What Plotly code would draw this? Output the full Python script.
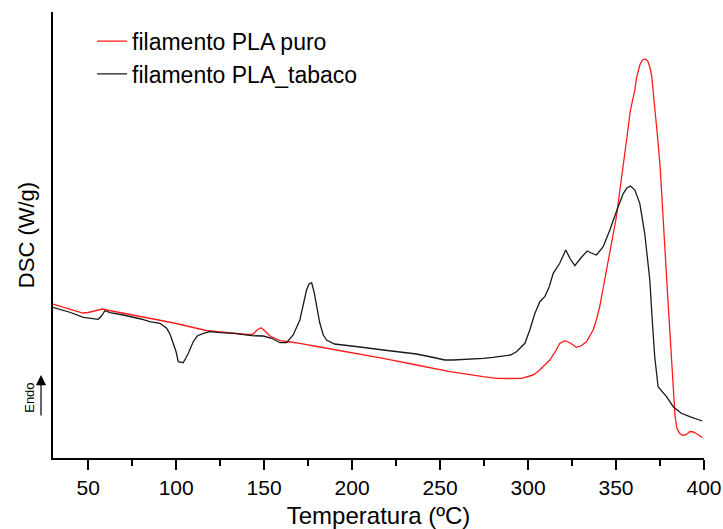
import plotly.graph_objects as go

# Temperature (ºC) and DSC signal (arbitrary units, endo up)
puro_T = [30, 40, 47, 50, 54, 58, 62, 70, 80, 90, 100, 110, 117, 125, 132, 140, 143.5, 146, 148.2,
          150.5, 153.3, 159, 165, 170.3, 180, 190, 199, 205, 217.7, 236.6, 255.6, 274.5, 282, 290,
          296.3, 301, 303, 306, 308.6, 312.4, 316, 318, 320.9, 324, 327.5, 330, 333.2, 335, 337,
          339, 340.8, 342.7, 344.6, 346.5, 348.4, 350.3, 352.2, 354, 356, 358.2, 360.7, 361.6,
          363.5, 365, 366.5, 368, 369.2, 370.2, 372, 373.5, 375, 376.5, 378, 379.5, 381, 382.5,
          383.5, 384.5, 386, 388, 390, 392, 394, 396, 399]
puro_v = [1.54, 1.49, 1.45, 1.455, 1.47, 1.49, 1.475, 1.45, 1.415, 1.38, 1.345, 1.305, 1.275,
          1.26, 1.247, 1.235, 1.235, 1.28, 1.303, 1.27, 1.22, 1.173, 1.16, 1.147, 1.115, 1.085,
          1.053, 1.035, 0.997, 0.93, 0.863, 0.813, 0.797, 0.795, 0.797, 0.82, 0.83, 0.87, 0.913,
          0.98, 1.08, 1.145, 1.173, 1.15, 1.107, 1.12, 1.163, 1.22, 1.28, 1.39, 1.52, 1.7, 1.88,
          2.04, 2.2, 2.42, 2.68, 2.9, 3.18, 3.48, 3.68, 3.8, 3.93, 3.98, 3.99, 3.97, 3.91, 3.83,
          3.53, 3.23, 2.93, 2.53, 2.03, 1.58, 1.13, 0.68, 0.43, 0.3, 0.25, 0.225, 0.235, 0.265,
          0.26, 0.24, 0.205]

tabaco_T = [30, 40, 47.2, 52, 55.7, 57.5, 59.5, 62.4, 70, 80, 85, 90.8, 94.6, 96.5, 98.4, 100,
            101.2, 104, 105.5, 106.9, 109.7, 112, 115.4, 119.2, 124.9, 133.4, 142.9, 149.5, 154.3,
            159, 162.8, 166.5, 170.3, 172.5, 174.1, 175.5, 177, 178.5, 179.8, 181.5, 183.6, 185.5,
            190, 199, 204.4, 217.7, 236.6, 245, 252.7, 257.4, 265, 274.5, 280, 285.8, 290, 293.4,
            296, 298.2, 301, 303.9, 306.7, 309.5, 312, 314.3, 318, 321.4, 324, 326.6, 330, 333.6,
            336, 338.9, 342.7, 346.5, 351.2, 354, 356, 358.2, 360.7, 363.5, 366.3, 369.2, 370.7,
            372, 373.9, 378.7, 382.5, 387.1, 391.9, 397.6, 399]
tabaco_v = [1.507, 1.455, 1.407, 1.395, 1.387, 1.42, 1.473, 1.453, 1.43, 1.39, 1.363, 1.347,
            1.297, 1.24, 1.147, 1.06, 0.963, 0.953, 1.0, 1.047, 1.163, 1.22, 1.247, 1.263, 1.253,
            1.247, 1.223, 1.22, 1.197, 1.153, 1.153, 1.23, 1.38, 1.55, 1.68, 1.74, 1.753, 1.65,
            1.513, 1.36, 1.23, 1.18, 1.14, 1.125, 1.11, 1.08, 1.04, 1.01, 0.98, 0.98, 0.985,
            0.997, 1.007, 1.02, 1.03, 1.063, 1.105, 1.147, 1.28, 1.447, 1.563, 1.613, 1.71, 1.847,
            1.947, 2.08, 1.99, 1.923, 2.0, 2.07, 2.05, 2.03, 2.113, 2.28, 2.513, 2.64, 2.697, 2.72,
            2.68, 2.547, 2.247, 1.78, 1.347, 1.013, 0.713, 0.613, 0.513, 0.447, 0.413, 0.38, 0.37]

x_ticks = [50, 100, 150, 200, 250, 300, 350, 400]
x_minor = [75, 125, 175, 225, 275, 325, 375]

FONT = "Liberation Sans, Arial, sans-serif"

fig = go.Figure()
fig.add_trace(go.Scatter(x=puro_T, y=puro_v, mode="lines", name="filamento PLA puro",
                         line=dict(color="#ff1a1a", width=1.3)))
fig.add_trace(go.Scatter(x=tabaco_T, y=tabaco_v, mode="lines", name="filamento PLA_tabaco",
                         line=dict(color="#1a1a1a", width=1.3)))

fig.update_layout(
    width=723, height=529,
    margin=dict(l=53, r=19, t=12, b=71, autoexpand=False),
    plot_bgcolor="white", paper_bgcolor="white",
    font=dict(family=FONT, color="black"),
    showlegend=True,
    legend=dict(x=0.06, y=0.983, xanchor="left", yanchor="top",
                bgcolor="rgba(0,0,0,0)", font=dict(size=23, family=FONT),
                tracegroupgap=0, itemwidth=30),
    xaxis=dict(range=[30, 400], showgrid=False, zeroline=False, automargin=False,
               showline=True, linecolor="black", linewidth=2,
               ticks="outside", ticklen=10, tickwidth=1.5, tickcolor="black",
               tickvals=x_ticks, ticktext=[str(t) for t in x_ticks],
               tickfont=dict(size=21, family=FONT),
               minor=dict(tickvals=x_minor, ticks="outside",
                          ticklen=6, tickwidth=1.5, tickcolor="black"),
               title=dict(text="Temperatura (ºC)", font=dict(size=24, family=FONT), standoff=9)),
    yaxis=dict(range=[0, 4.46], showgrid=False, zeroline=False, automargin=False,
               showline=True, linecolor="black", linewidth=2,
               showticklabels=False, ticks="",
               title=dict(text="DSC (W/g)", font=dict(size=22, family=FONT), standoff=10)),
)

# Endo arrow marker
fig.add_annotation(xref="paper", yref="paper", x=-0.0184, y=0.186, text="",
                   showarrow=True, ax=0, ay=42, arrowhead=2, arrowsize=1.7,
                   arrowwidth=1.2, arrowcolor="black")
fig.add_annotation(xref="paper", yref="paper", x=-0.0364, y=0.1357, text="Endo",
                   xanchor="center", yanchor="middle",
                   textangle=-90, showarrow=False, font=dict(size=13, family=FONT))

fig.write_html("out.html")
